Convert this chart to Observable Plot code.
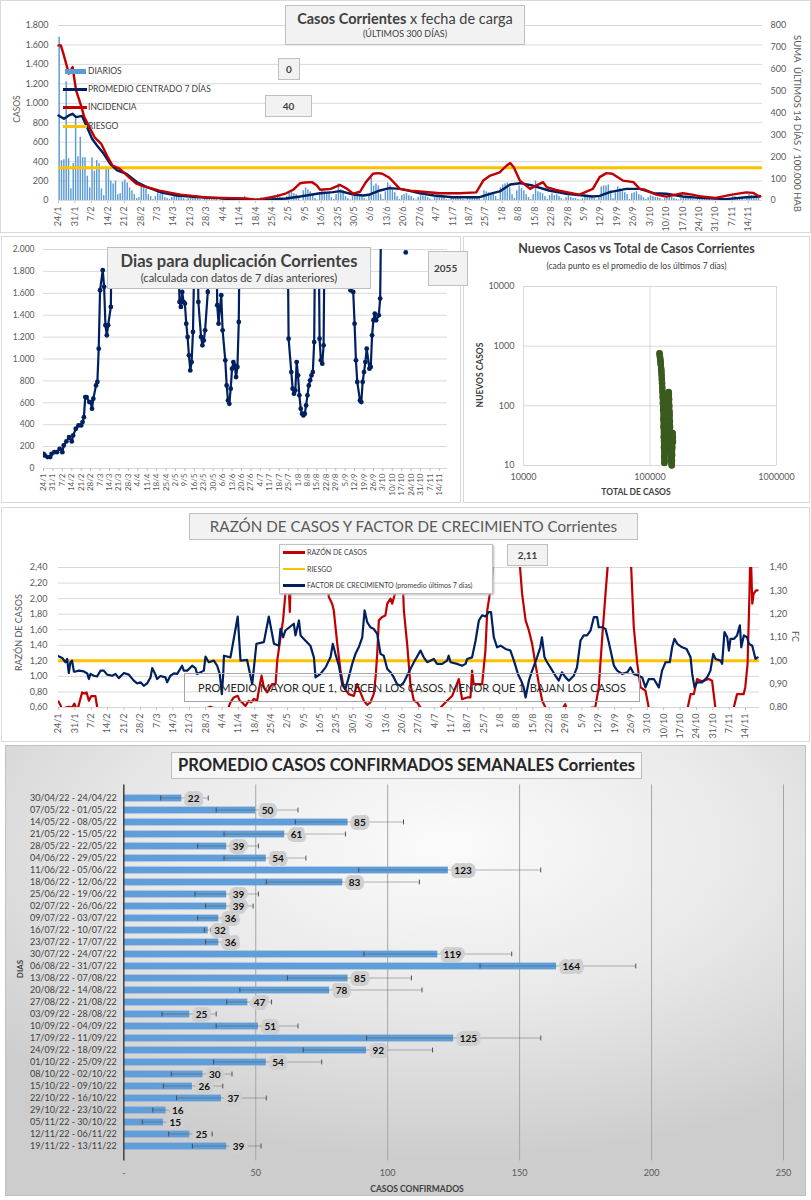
<!DOCTYPE html>
<html><head><meta charset="utf-8">
<script src="https://cdn.jsdelivr.net/npm/d3@7"></script>
<script src="https://cdn.jsdelivr.net/npm/@observablehq/plot@0.6"></script>
<style>
body{margin:0;background:#fff;font-family:Lato,"Open Sans",sans-serif;color:#404040}
#page{position:relative;width:811px;height:1200px;overflow:hidden;background:#fff}
.abs{position:absolute}
.panel{position:absolute;border:1px solid #d9d9d9;box-sizing:border-box;background:#fff}
.box{position:absolute;background:#f2f2f2;border:1px solid #bfbfbf;box-sizing:border-box;text-align:center;color:#404040;white-space:nowrap;overflow:hidden}
.lg{position:absolute;font-size:8.5px;color:#404040;white-space:nowrap;line-height:10px}
.sw{position:absolute}
.rot{position:absolute;white-space:nowrap;transform-origin:center center}
</style></head>
<body><div id="page">
<div class="panel" style="left:0;top:0;width:811px;height:233px"></div>
<div class="panel" style="left:1px;top:236px;width:460px;height:267px"></div>
<div class="panel" style="left:463px;top:236px;width:347px;height:267px"></div>
<div class="panel" style="left:1px;top:507px;width:809px;height:235px"></div>
<div class="panel" style="left:5px;top:745px;width:801px;height:451px;border-color:#c0c0c0;background:radial-gradient(ellipse 75% 70% at 55% 22%, #fbfbfb 0%, #e9e9e9 50%, #cdcdcd 100%)"></div>
<div id="p1" class="abs" style="left:0;top:0"></div>
<div id="p2" class="abs" style="left:0;top:235px"></div>
<div id="p3" class="abs" style="left:463px;top:235px"></div>
<div id="p4" class="abs" style="left:0;top:508px"></div>
<div id="p5" class="abs" style="left:5px;top:745px"></div>

<!-- panel 1 overlays -->
<div class="box" style="left:285px;top:5px;width:240px;height:40px;padding-top:3px">
 <div style="font-size:14.5px;line-height:19px"><b>Casos Corrientes</b> x fecha de carga</div>
 <div style="font-size:9px;line-height:11px">(ÚLTIMOS 300 DÍAS)</div>
</div>
<div class="box" style="left:278px;top:58px;width:22px;height:22px;font-size:10px;font-weight:bold;line-height:20px">0</div>
<div class="box" style="left:265px;top:95px;width:47px;height:22px;font-size:10px;font-weight:bold;line-height:20px">40</div>
<div class="sw" style="left:65px;top:69px;width:21px;height:5px;background:#5b9bd5"></div>
<div class="lg" style="left:88px;top:66px">DIARIOS</div>
<div class="sw" style="left:63px;top:88px;width:24px;height:2.5px;background:#002060"></div>
<div class="lg" style="left:88px;top:84px">PROMEDIO CENTRADO 7 DÍAS</div>
<div class="sw" style="left:63px;top:106px;width:24px;height:2.5px;background:#c00000"></div>
<div class="lg" style="left:88px;top:102px">INCIDENCIA</div>
<div class="sw" style="left:63px;top:124.5px;width:24px;height:3px;background:#ffc000"></div>
<div class="lg" style="left:88px;top:121px">RIESGO</div>
<div class="rot" style="left:-3px;top:104px;width:40px;text-align:center;font-size:8.5px;color:#595959;transform:rotate(-90deg)">CASOS</div>
<div class="rot" style="left:697px;top:118px;width:200px;text-align:center;font-size:9.5px;color:#595959;transform:rotate(90deg)">SUMA &nbsp;ÚLTIMOS 14 DÍAS / 100.000 HAB</div>

<!-- panel 2 overlays -->
<div class="box" style="left:107px;top:247px;width:264px;height:42px">
 <div style="font-size:16.5px;font-weight:bold;line-height:20px;margin-top:3px">Dias para duplicación Corrientes</div>
 <div style="font-size:11px;line-height:14px">(calculada con datos de 7 días anteriores)</div>
</div>
<div class="box" style="left:428px;top:251px;width:40px;height:35px;font-size:10px;font-weight:bold;line-height:33px;text-align:left;padding-left:5px">2055</div>

<!-- panel 3 overlays -->
<div class="abs" style="left:463px;top:241px;width:347px;text-align:center;font-size:12.5px;font-weight:bold;color:#404040">Nuevos Casos vs Total de Casos Corrientes</div>
<div class="abs" style="left:463px;top:261px;width:347px;text-align:center;font-size:8.5px;color:#404040">(cada punto es el promedio de los últimos 7 días)</div>
<div class="rot" style="left:440px;top:370px;width:80px;text-align:center;font-size:8.5px;font-weight:bold;color:#404040;transform:rotate(-90deg)">NUEVOS CASOS</div>
<div class="abs" style="left:586px;top:487px;width:100px;text-align:center;font-size:8.5px;font-weight:bold;color:#404040">TOTAL DE CASOS</div>

<!-- panel 4 overlays -->
<div class="box" style="left:189px;top:513px;width:449px;height:27px;font-size:15.2px;line-height:25px;color:#595959">RAZÓN DE CASOS Y FACTOR DE CRECIMIENTO Corrientes</div>
<div class="box" style="left:279px;top:544px;width:214px;height:50px;background:#fff;box-shadow:1px 1px 2px #bbb"></div>
<div class="sw" style="left:283px;top:551px;width:22px;height:2.5px;background:#c00000"></div>
<div class="lg" style="left:307px;top:547px;font-size:7px">RAZÓN DE CASOS</div>
<div class="sw" style="left:283px;top:567.5px;width:22px;height:2.5px;background:#ffc000"></div>
<div class="lg" style="left:307px;top:564px;font-size:7px">RIESGO</div>
<div class="sw" style="left:283px;top:584px;width:22px;height:2.5px;background:#002060"></div>
<div class="lg" style="left:307px;top:580px;font-size:7px">FACTOR DE CRECIMIENTO (promedio últimos 7 días)</div>
<div class="box" style="left:507px;top:544px;width:41px;height:22px;font-size:10px;font-weight:bold;line-height:20px">2,11</div>
<div class="abs" style="left:184px;top:673px;width:456px;height:29px;border:1px solid #a6a6a6;box-sizing:border-box;text-align:center;font-size:11px;line-height:27px;color:#262626;white-space:nowrap">PROMEDIO MAYOR QUE 1, CRECEN LOS CASOS, MENOR QUE 1, BAJAN LOS CASOS</div>
<div class="rot" style="left:-27px;top:627px;width:90px;text-align:center;font-size:9px;color:#595959;transform:rotate(-90deg)">RAZÓN DE CASOS</div>
<div class="rot" style="left:785px;top:631px;width:20px;text-align:center;font-size:9px;color:#595959;transform:rotate(90deg)">FC</div>

<!-- panel 5 overlays -->
<div class="box" style="left:171px;top:752px;width:471px;height:27px;background:#f7f7f7;font-size:16.5px;font-weight:bold;line-height:25px;color:#262626">PROMEDIO CASOS CONFIRMADOS SEMANALES Corrientes</div>
<div class="rot" style="left:5px;top:964px;width:30px;text-align:center;font-size:8px;font-weight:bold;color:#404040;transform:rotate(-90deg)">DIAS</div>
<div class="abs" style="left:347px;top:1184px;width:140px;text-align:center;font-size:8.5px;font-weight:bold;color:#404040">CASOS CONFIRMADOS</div>
</div>
<script>
// ---------- DATA ----------
// Panel 1: casos diarios (24/1/2022 .. 19/11/2022)
const diarios = [
 1680,410,420,1220,430,120,380,
 840,450,650,440,440,250,130,
 440,300,410,380,120,50,330,
 320,200,170,200,60,70,190,
 210,180,130,100,60,20,30,
 140,130,120,60,40,10,40,
 90,60,70,30,20,10,30,
 50,40,50,30,20,5,20,
 40,30,30,20,10,5,15,
 30,25,25,20,10,0,10,
 20,30,25,15,5,0,10,
 30,25,40,20,10,0,10,
 5,20,30,25,15,0,20,
 40,50,60,30,10,0,40,
 80,90,70,60,20,0,100,
 130,110,90,60,20,5,80,
 110,90,80,70,30,10,60,
 170,110,100,40,20,5,40,
 80,70,60,40,20,5,50,
 230,150,170,150,60,10,90,
 180,150,110,80,40,10,50,
 60,70,50,40,20,5,30,
 50,45,40,30,15,5,30,
 45,40,35,30,10,5,25,
 40,35,30,30,10,5,25,
 40,30,35,30,15,5,100,
 90,80,60,70,40,10,130,
 160,170,180,130,60,20,100,
 150,120,100,60,30,10,60,
 200,90,80,70,40,10,50,
 70,50,60,40,20,5,30,
 50,30,20,20,10,5,20,
 60,50,40,30,20,5,40,
 140,150,150,160,100,20,80,
 140,120,90,80,60,10,70,
 80,90,60,50,30,10,30,
 50,40,30,30,20,5,20,
 30,40,30,20,10,5,20,
 40,30,30,20,10,5,10,
 20,20,15,10,10,5,10,
 20,20,15,10,5,5,15,
 40,40,30,30,20,5,20,
 60,50,40,30,20,0];
const promedioDia = [0,2.3,4.4,6,7.5,10,12.2,14.3,16.4,19.3,22,25,29,33.5,37.7,43.4,50.5,60.5,68,74.5,85,89,97,103,111.5,117,120,125.6,130,132.7,137,141,145.5,150,154,160,168,179.5,185,188,192.5,196.6,202,209,216.5,227.7,230.6,234.9,242,247.7,253.5,259,266,273,284.5,293,299];
const promedioValor = [875,840,875,892,858,870,754,635,566,480,377,309,274,188,137,85,51,34,24,10,7,7,20,41,75,86,96,62,51,62,103,127,120,96,75,51,34,34,75,93,165,178,154,103,69,41,48,86,120,120,75,69,41,27,14,34,41];
const incidenciaDia = [0,1,2.3,4.4,6,7.5,9.6,11,13.2,15.4,18.2,21,23,26,30,33,36,39,43,48,52,58,63,70,75,80,84,86,89,93,97,100,103,105,108,110,111.5,116,120,123,125.6,128.5,131,134,136,138,141,145.5,150,154,162.5,171,178,181,184,188,191,192.5,194,196.6,201,203.7,206.5,208,212,216.5,222,227.7,230.6,233.5,236,240.5,245,247.7,250,254.7,259,266,270,274,280,287,293,296,298,299];
const incidenciaValor = [709,709,663,580,610,503,434,381,335,289,259,198,160,146,107,78,66,58,45,35,27,20,14,12,11,9,3,5,12,20,33,49,79,82,84,70,49,53,71,53,31,40,84,122,125,122,104,53,45,41,33,33,37,91,114,129,160,171,152,91,53,69,84,61,48,38,27,53,107,125,122,91,84,53,49,27,18,33,27,18,12,27,37,35,22,20];
const riesgoIncidencia = 150;
const ticksCasos = [0,200,400,600,800,1000,1200,1400,1600,1800];
const ticksIncidencia = [0,100,200,300,400,500,600,700,800];

// Panel 2: días para duplicación
const dupDia = [0,1,3,5,6,8,10,12,14,15,17,19,21,22,24,26,28,29,30,31,32,34,35,36,37,39,40,41,42,44,45,46,47,48,50,51,
 99,101,102,103,104,105,106,107,108,109,110,111,113,114,115,117,118,119,120,122,123,
 128,129,130,131,132,133,135,136,137,138,139,140,141,142,143,144,145,146,
 181,182,184,185,186,187,188,189,190,191,192,193,194,195,196,197,198,199,200,201,202,204,205,206,207,208,209,
 227,228,230,231,232,233,235,236,237,238,239,240,242,243,244,245,246,247,249,250,251,
 268,269,270];
const dupValor = [134,119,104,104,134,149,149,180,149,210,247,287,247,302,363,393,393,424,469,652,652,607,607,546,637,759,790,1094,1628,1811,1659,1308,1216,1308,1476,2600,
 2600,1521,1476,1613,1521,1506,1323,1201,1034,896,972,1247,2600,2600,1521,1201,1125,1170,1262,1613,2600,
 2600,1491,1323,1460,1582,1262,988,759,622,591,729,912,972,942,835,927,1338,2600,
 2600,1186,881,729,683,713,972,851,668,546,500,485,500,576,668,759,805,850,881,1155,2600,2600,1186,988,957,1125,2600,
 2600,1628,1613,1323,988,790,622,607,790,881,972,1094,912,927,1216,1354,1415,1354,1399,1552,2600,
 null,1973,null];
const ticksDup = [0,200,400,600,800,1000,1200,1400,1600,1800,2000];

// Panel 3: nuevos casos vs total
const totalCasos = [119000,119500,120000,120500,121000,121500,122500,123000,123500,124000,124500,125000,125500,126000,126500,127000,127500,128000,128500,129000,129500,130000,130500,131000,131500,132000,132500,133000,133500,134000,134500,135000,135500,136000,136500,137000,137500,138000,138500,139000,139500,140000,140500,141000,141500,142000,142500,143000,143500,144000,144500,145000,145500,146000,146500,147000,147500,148000,148500,149000,149500,150000,150500,151000,151500,152000];
const nuevosCasos = [760,700,650,600,560,500,420,380,330,280,240,200,170,140,110,85,60,45,30,20,14,11,12,16,22,30,45,60,80,90,75,55,40,30,25,22,25,30,40,70,110,150,170,160,130,100,80,70,55,45,35,30,25,20,17,14,12,11,10,12,15,20,28,35,30,25];

// Panel 4: razón de casos y factor de crecimiento
const razonDia = [0,1,1.6,3,4.4,5.8,6.8,8,10.1,11.1,12,13,14,15.8,16.8,20,30,40,50,60,65,66.5,69.3,72.2,73.6,75,76.7,77.6,78.6,80,81.4,82.5,83.6,85,85.7,86.9,87.9,89.3,91.4,92.9,93.6,95,96.1,97.1,97.9,99,99.7,105,110,114.3,115.7,117.1,117.8,119.3,120.7,122.1,124.2,126.4,127.8,129.2,130.7,132.1,133.5,134.9,135.7,136.4,137.1,138.5,139.9,140.7,142.1,142.8,144.2,145.2,147.1,147.8,149.2,150.6,152.1,153.5,154.9,158,162,163.5,166.3,168.5,169.9,171.3,172.7,174.9,176.3,177,177.7,179.9,181.3,182.7,183.5,184.6,185.6,186.3,190,195,197,198.4,199.9,201.3,202.7,204.1,205.6,207,208.4,209.8,213,216.9,217.6,221,228.3,229.7,231.2,232.7,234.1,235.5,240,244.8,246.2,247.7,249.1,251.2,252.6,253.3,260,268,269,270.5,271.9,273.3,274.7,276.1,278.3,279.7,281.1,281.8,284,289,290.4,291.8,293.2,293.9,294.9,295.7,296.1,296.5,296.9,297.5,298.6,299.2];
const razonValor = [0.678,0.62,0.557,0.60,0.61,0.60,0.65,0.557,0.794,0.781,0.794,0.686,0.746,0.746,0.557,0.5,0.45,0.5,0.5,0.55,0.61,0.59,0.58,0.557,0.665,0.729,0.75,0.686,0.665,0.62,0.686,0.665,0.71,0.69,0.815,1.009,0.858,0.794,0.90,0.90,1.20,1.50,1.72,2.06,2.6,1.827,2.6,3.0,3.0,2.5,2.02,1.935,1.85,1.418,1.074,0.858,0.772,0.75,0.90,0.794,0.686,0.634,0.665,0.772,0.988,1.289,1.72,1.763,1.784,1.935,2.0,1.935,2.085,2.6,2.4,1.85,1.418,0.90,0.686,0.665,0.60,0.5,0.5,0.60,0.686,0.75,0.858,0.966,0.708,0.729,0.729,1.074,0.90,0.90,0.90,1.332,1.849,2.064,2.279,2.6,3.0,3.0,2.6,2.064,1.72,1.59,1.418,1.16,0.90,0.686,0.60,0.47,0.45,0.643,0.557,0.45,0.60,0.60,0.858,1.504,2.064,2.6,3.0,2.6,1.633,1.16,0.858,0.815,0.60,0.47,0.4,0.45,0.557,0.772,0.772,0.966,0.944,0.944,0.966,0.944,0.60,0.47,0.45,0.60,0.772,0.772,0.772,0.858,1.16,2.06,2.6,2.365,1.935,2.064,2.107,2.107];
const fcDia = [0,1.6,3,3.7,4.4,5.1,5.8,6.6,7.3,8.7,10.8,12.3,13,13.7,15.1,16.5,18,19.4,20.8,23,24.4,25.8,28,30.1,32.2,33.7,35.1,36.5,37.9,39.4,40.1,41.5,42.2,43.6,45.8,46.5,47.9,49.4,50.8,52.9,53.6,55.1,57.2,58.6,
 59.3,62.2,62.9,64.3,66.5,67.9,69,69.9,70.5,70.8,73.6,76.7,77.9,80.7,82.9,84.7,87.9,90,92.2,94.3,95,96.1,97.1,100.7,101.4,102.9,103.6,105,107.8,109.3,110,112.1,114.3,116.4,117.4,118.5,120,121.4,122.8,124.2,125.7,127.1,128.5,130,131,132.1,133.5,134.9,136.4,137.8,139.2,140.7,142.1,143.5,144.9,146.4,147.8,149.9,152.1,154.9,
 156.3,157.8,160.6,162,164.2,166.3,167,167.8,170.6,172.7,174.2,174.9,177,178.5,179.9,181.3,182.7,184.1,185.1,186.3,187.7,189.2,191.3,193.4,194.9,196.6,198,199.1,199.9,201.3,202.7,204.8,206.2,206.9,208,209.1,210.5,212.7,214.1,215.5,217,218.4,220.5,221.9,223.4,224.8,226.2,227.7,229.1,230.5,231.2,232.7,234.1,235.5,237.7,239.1,241.2,243.4,244.8,246.2,248.3,249.8,251.2,252.6,254.8,256.9,258.3,259.8,261.6,262.6,263.6,264.8,266.9,268.8,270.5,271.2,272.2,273.3,275.5,277.6,279,280.2,281.2,283.3,284,285,286.2,286.9,287.6,289,290.4,291.6,292.2,293.3,294.7,295.4,296.9,298.3,299.2];
const fcValor = [1.020,1.012,0.994,1.008,0.948,0.994,1.001,0.954,0.954,0.958,0.955,0.946,0.922,0.944,0.936,0.933,0.958,0.958,0.941,0.936,0.944,0.926,0.948,0.941,0.915,0.903,0.908,0.893,0.903,0.929,0.969,0.941,0.922,0.935,0.929,0.908,0.936,0.946,0.944,0.979,0.958,0.958,0.979,0.969,
 0.944,0.958,1.018,0.994,1.001,0.979,0.944,0.857,0.944,1.022,1.015,1.190,1.001,1.004,0.900,1.073,1.080,1.190,1.073,1.065,1.137,1.101,1.130,1.159,1.109,1.173,1.109,1.094,1.065,1.015,0.929,0.944,0.972,1.015,1.073,1.030,0.979,0.900,0.879,0.929,0.987,1.030,1.058,1.101,1.216,1.166,1.144,1.137,1.116,1.030,1.022,0.965,0.951,0.929,0.900,0.893,0.908,0.951,0.994,1.044,
 1.015,0.994,1.008,0.987,0.987,1.001,1.022,0.994,0.987,0.979,0.987,1.008,1.015,1.087,1.173,1.195,1.190,1.209,1.209,1.101,1.058,1.065,1.051,1.044,1.001,0.944,0.915,0.886,0.843,0.915,0.958,1.015,1.058,1.101,1.015,0.994,0.972,0.936,0.915,0.951,0.929,0.915,0.936,0.972,1.087,1.109,1.109,1.130,1.187,1.187,1.144,1.144,1.137,1.080,0.979,0.958,0.944,0.951,0.972,0.944,0.936,0.929,0.886,0.922,0.922,0.886,0.958,0.994,0.994,1.058,1.094,1.073,1.058,1.051,1.015,0.944,0.886,0.908,0.908,0.929,0.958,1.030,1.008,1.001,0.987,1.123,1.101,1.044,1.094,1.094,1.109,1.152,1.058,1.109,1.101,1.073,1.065,1.008,1.015];
const riesgoRazon = 1.2;
const ticksRazon = [0.6,0.8,1.0,1.2,1.4,1.6,1.8,2.0,2.2,2.4];
const ticksFC = [0.8,0.9,1.0,1.1,1.2,1.3,1.4];

// Panel 5: promedio semanal
const semanas = ["30/04/22 - 24/04/22","07/05/22 - 01/05/22","14/05/22 - 08/05/22","21/05/22 - 15/05/22","28/05/22 - 22/05/22","04/06/22 - 29/05/22","11/06/22 - 05/06/22","18/06/22 - 12/06/22","25/06/22 - 19/06/22","02/07/22 - 26/06/22","09/07/22 - 03/07/22","16/07/22 - 10/07/22","23/07/22 - 17/07/22","30/07/22 - 24/07/22","06/08/22 - 31/07/22","13/08/22 - 07/08/22","20/08/22 - 14/08/22","27/08/22 - 21/08/22","03/09/22 - 28/08/22","10/09/22 - 04/09/22","17/09/22 - 11/09/22","24/09/22 - 18/09/22","01/10/22 - 25/09/22","08/10/22 - 02/10/22","15/10/22 - 09/10/22","22/10/22 - 16/10/22","29/10/22 - 23/10/22","05/11/22 - 30/10/22","12/11/22 - 06/11/22","19/11/22 - 13/11/22"];
const promedioSemanal = [22,50,85,61,39,54,123,83,39,39,36,32,36,119,164,85,78,47,25,51,125,92,54,30,26,37,16,15,25,39];
const errorMin = [14,35,65,38,28,38,89,54,27,31,28,30.5,31,91,135,62,44,39,14.5,35,92,68,34,18,15,20,11,7,17,26];
const errorMax = [32,66,106,84,51,69,158,112,51,49,43,33,38,147,194,109,113,56,35,66,158,117,75,41,37.5,54,17.5,22,33.5,52];
const ticksSemanal = [0,50,100,150,200,250];

// ---------- HELPERS ----------
const loc = d3.formatLocale({decimal:",", thousands:".", grouping:[3], currency:["$",""]});
const fmtMiles = loc.format(",");
const fmt2 = loc.format(",.2f");
const fmtFecha = d3.timeFormat("%-d/%-m");
const fecha = d => new Date(2022, 0, 24, 0, 0, 0, Math.round(d * 86400000));
const ticksFecha = d3.range(0, 295, 7).map(fecha);
const FONT = "Lato, 'Open Sans', sans-serif";
const baseStyle = {background:"transparent", fontFamily:FONT, fontSize:"9px", color:"#595959", overflow:"visible"};
const GRID = "#d9d9d9";
const put = (id, el) => document.getElementById(id).appendChild(el);
const pairs = (xs, ys) => xs.map((x, i) => ({x: fecha(x), y: ys[i]}));

// ---------- PANEL 1 ----------
const k1 = 1800 / 800;
put("p1", Plot.plot({
  width: 811, height: 232, marginLeft: 58, marginRight: 49, marginTop: 25, marginBottom: 32,
  style: baseStyle,
  x: {type: "time", domain: [fecha(0), fecha(300)]},
  y: {domain: [0, 1800]},
  marks: [
    Plot.gridY(ticksCasos, {stroke: GRID, strokeOpacity: 1}),
    Plot.rectY(diarios.map((v, i) => ({a: fecha(i), b: fecha(i + 1), v})), {x1: "a", x2: "b", y: "v", fill: "#5b9bd5", insetLeft: 0.45, insetRight: 0.45}),
    Plot.ruleY([riesgoIncidencia * k1], {stroke: "#ffc000", strokeWidth: 3}),
    Plot.line(pairs(promedioDia, promedioValor), {x: "x", y: "y", stroke: "#002060", strokeWidth: 2.4}),
    Plot.line(pairs(incidenciaDia, incidenciaValor), {x: "x", y: d => d.y * k1, stroke: "#c00000", strokeWidth: 2.4}),
    Plot.axisY(ticksCasos, {anchor: "left", tickSize: 0, tickPadding: 10, tickFormat: fmtMiles, label: null}),
    Plot.axisY(ticksIncidencia.map(v => v * k1), {anchor: "right", tickSize: 0, tickPadding: 8, tickFormat: v => Math.round(v / k1), label: null}),
    Plot.axisX(ticksFecha, {tickRotate: -90, tickFormat: fmtFecha, tickSize: 3, tickPadding: 3, stroke: "#bfbfbf", label: null}),
    Plot.ruleY([0], {stroke: "#d9d9d9"})
  ]
}));

// ---------- PANEL 2 ----------
put("p2", Plot.plot({
  width: 460, height: 265, marginLeft: 43, marginRight: 13, marginTop: 14, marginBottom: 32,
  style: {...baseStyle, fontSize: "8.5px"},
  x: {type: "time", domain: [fecha(0), fecha(300)]},
  y: {domain: [0, 2000]},
  marks: [
    Plot.gridY(ticksDup, {stroke: GRID, strokeOpacity: 1}),
    Plot.line(pairs(dupDia, dupValor), {x: "x", y: "y", stroke: "#002060", strokeWidth: 2.2, clip: true}),
    Plot.dot(pairs(dupDia, dupValor), {x: "x", y: "y", r: 2.4, fill: "#002060", clip: true}),
    Plot.axisY(ticksDup, {anchor: "left", tickSize: 0, tickPadding: 9, tickFormat: fmtMiles, label: null}),
    Plot.axisX(ticksFecha, {tickRotate: -90, tickFormat: fmtFecha, tickSize: 3, tickPadding: 2, stroke: "#bfbfbf", fontSize: 8, label: null})
  ]
}));

// ---------- PANEL 3 ----------
const scat = totalCasos.map((t, i) => ({t, n: nuevosCasos[i]}));
put("p3", Plot.plot({
  width: 348, height: 265, marginLeft: 60, marginRight: 35, marginTop: 51, marginBottom: 35,
  style: baseStyle,
  x: {type: "log", domain: [1e4, 1e6]},
  y: {type: "log", domain: [10, 1e4]},
  marks: [
    Plot.gridX([1e4, 1e5, 1e6], {stroke: GRID, strokeOpacity: 1}),
    Plot.gridY([10, 100, 1000, 10000], {stroke: GRID, strokeOpacity: 1}),
    Plot.line(scat, {x: "t", y: "n", stroke: "#3a5a1e", strokeWidth: 6, strokeLinejoin: "round", strokeLinecap: "round"}),
    Plot.dot(scat, {x: "t", y: "n", r: 3.3, fill: "#3a5a1e"}),
    Plot.axisX([1e4, 1e5, 1e6], {tickSize: 0, tickPadding: 8, tickFormat: d => String(d), label: null}),
    Plot.axisY([10, 100, 1000, 10000], {tickSize: 0, tickPadding: 9, tickFormat: d => String(d), label: null})
  ]
}));

// ---------- PANEL 4 ----------
const fcToL = v => riesgoRazon + (v - 1) * 3;
put("p4", Plot.plot({
  width: 811, height: 234, marginLeft: 58, marginRight: 52, marginTop: 59, marginBottom: 35,
  style: baseStyle,
  x: {type: "time", domain: [fecha(0), fecha(300)]},
  y: {domain: [0.6, 2.4]},
  marks: [
    Plot.gridY(ticksRazon, {stroke: GRID, strokeOpacity: 1}),
    Plot.ruleY([riesgoRazon], {stroke: "#ffc000", strokeWidth: 3}),
    Plot.line(pairs(razonDia, razonValor), {x: "x", y: "y", stroke: "#c00000", strokeWidth: 2.2, clip: true}),
    Plot.line(pairs(fcDia, fcValor), {x: "x", y: d => fcToL(d.y), stroke: "#002060", strokeWidth: 2.2, clip: true}),
    Plot.axisY(ticksRazon, {anchor: "left", tickSize: 0, tickPadding: 11, tickFormat: fmt2, label: null}),
    Plot.axisY(ticksFC.map(fcToL), {anchor: "right", tickSize: 0, tickPadding: 10, tickFormat: v => fmt2((v - riesgoRazon) / 3 + 1), label: null}),
    Plot.axisX(ticksFecha, {tickRotate: -90, tickFormat: fmtFecha, tickSize: 3, tickPadding: 3, stroke: "#bfbfbf", label: null})
  ]
}));

// ---------- PANEL 5 ----------
const sem = semanas.map((s, i) => ({s, v: promedioSemanal[i], lo: errorMin[i], hi: errorMax[i]}));
put("p5", Plot.plot({
  width: 801, height: 450, marginLeft: 118.3, marginRight: 23, marginTop: 39.4, marginBottom: 34.6,
  style: {...baseStyle, fontSize: "9px"},
  x: {domain: [0, 250]},
  y: {type: "band", domain: semanas, padding: 0},
  marks: [
    Plot.gridX(ticksSemanal.slice(1), {stroke: "#a6a6a6", strokeOpacity: 1}),
    Plot.barX(sem, {x: "v", y: "s", fill: "#5f9ed8", insetTop: 2.6, insetBottom: 2.6}),
    Plot.barX(sem, {x1: "lo", x2: "hi", y: "s", fill: "#4d4d4d", insetTop: 5.8, insetBottom: 5.8}),
    Plot.tickX(sem, {x: "lo", y: "s", stroke: "#4d4d4d", insetTop: 3.6, insetBottom: 3.6}),
    Plot.tickX(sem, {x: "hi", y: "s", stroke: "#4d4d4d", insetTop: 3.6, insetBottom: 3.6}),
    Plot.text(sem, {x: "v", y: "s", text: d => String(d.v), dx: 6, textAnchor: "start", fontWeight: "bold", fontSize: 10, fill: "none", stroke: "#cfcfcf", strokeWidth: 8, strokeLinejoin: "round", strokeLinecap: "square"}),
    Plot.text(sem, {x: "v", y: "s", text: d => String(d.v), dx: 6, textAnchor: "start", fontWeight: "bold", fontSize: 10, fill: "#111"}),
    Plot.ruleX([0], {stroke: "#404040", strokeWidth: 1.5}),
    Plot.axisY({tickSize: 0, tickPadding: 7, fill: "#404040", label: null}),
    Plot.axisX(ticksSemanal, {tickSize: 0, tickPadding: 9, tickFormat: d => d === 0 ? "-" : String(d), label: null})
  ]
}));
</script>
</body></html>
